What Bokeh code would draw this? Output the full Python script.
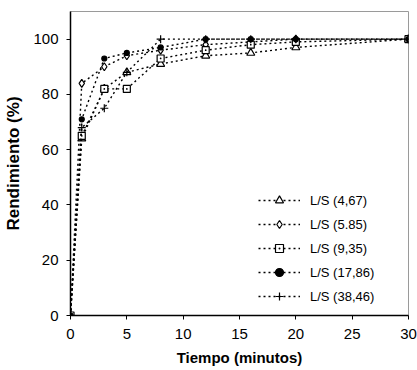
from bokeh.plotting import figure
from bokeh.models import Legend, LegendItem, Range1d, FixedTicker
from bokeh.embed import file_html
from bokeh.resources import INLINE

tiempo = [0, 1, 3, 5, 8, 12, 16, 20, 30]
ls_4_67 = [0, 64, 82, 88, 91, 94, 95, 97, 100]
ls_5_85 = [0, 84, 90, 94, 96, 98, 99, 100, 100]
ls_9_35 = [0, 65, 82, 82, 93, 96, 98, 99, 100]
ls_17_86 = [0, 71, 93, 95, 97, 100, 100, 100, 100]
ls_38_46 = [0, 68, 75, 88, 100, 100, 100, 100, 100]
labels = ["L/S (4,67)", "L/S (5.85)", "L/S (9,35)", "L/S (17,86)", "L/S (38,46)"]
x_ticks = [0, 5, 10, 15, 20, 25, 30]
y_ticks = [0, 20, 40, 60, 80, 100]

series = [ls_4_67, ls_5_85, ls_9_35, ls_17_86, ls_38_46]
markers = [
    dict(marker="triangle", size=8, fill_color="white"),
    dict(marker="diamond", size=8, fill_color="white"),
    dict(marker="square_dot", size=7, fill_color="white"),
    dict(marker="circle", size=5, fill_color="black"),
    dict(marker="cross", size=8, fill_color="black"),
]

FONT = "Liberation Sans"

p = figure(width=417, height=370, output_backend="svg", toolbar_location=None,
           x_range=Range1d(0, 30), y_range=Range1d(0, 110),
           min_border_left=70, min_border_right=9, min_border_top=11, min_border_bottom=55)
p.xgrid.visible = False
p.ygrid.visible = False
p.outline_line_color = "#9a9a9a"
p.outline_line_width = 1

items = []
for ys, m, lab in zip(series, markers, labels):
    ln = p.line(tiempo, ys, line_color="black", line_width=1.4, line_dash="2 3")
    sc = p.scatter(tiempo, ys, marker=m["marker"], size=m["size"],
                   fill_color=m["fill_color"], line_color="black", line_width=1.2)
    items.append(LegendItem(label=lab, renderers=[ln, sc]))

legend = Legend(items=items, location=(188, 9), padding=0, margin=0, spacing=4,
                glyph_width=42, glyph_height=20, label_height=20, label_standoff=10,
                border_line_alpha=0, background_fill_alpha=0,
                label_text_font=FONT, label_text_font_size="13px", label_text_color="black")
p.add_layout(legend, "center")

for ax in (p.xaxis[0], p.yaxis[0]):
    ax.axis_line_color = "black"
    ax.axis_line_width = 1.5
    ax.major_tick_line_color = "black"
    ax.major_tick_out = 4
    ax.major_tick_in = 0
    ax.minor_tick_line_color = None
    ax.major_label_text_font = FONT
    ax.major_label_text_font_size = "15px"
    ax.major_label_text_color = "black"
    ax.axis_label_text_font = FONT
    ax.axis_label_text_font_style = "bold"
    ax.axis_label_text_color = "black"

p.xaxis.axis_label_text_font_size = "15px"
p.yaxis.axis_label_text_font_size = "17px"
p.xaxis.ticker = FixedTicker(ticks=x_ticks)
p.yaxis.ticker = FixedTicker(ticks=y_ticks)
p.xaxis.axis_label = "Tiempo (minutos)"
p.yaxis.axis_label = "Rendimiento (%)"
p.xaxis.major_label_standoff = 9
p.xaxis.axis_label_standoff = 7
p.yaxis.major_label_standoff = 8
p.yaxis.axis_label_standoff = 7

open("out.html", "w").write(file_html(p, INLINE))
